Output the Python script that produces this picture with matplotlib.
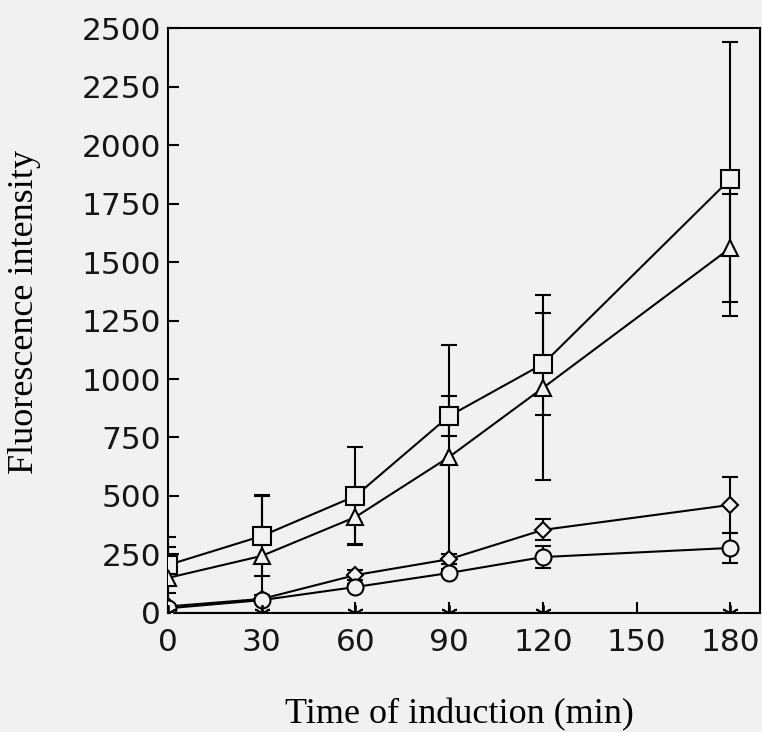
import matplotlib.pyplot as plt
import numpy as np

# data
times = [0, 30, 60, 90, 120, 180]

square = [205, 329, 500, 842, 1064, 1855]
square_err = [120, 170, 210, 85, 218, 585]

triangle = [150, 244, 410, 667, 962, 1560]
triangle_err = [130, 260, 115, 480, 395, 230]

diamond = [28, 60, 162, 230, 355, 462]
diamond_err = [10, 15, 20, 20, 45, 120]

circle = [20, 55, 111, 171, 239, 278]
circle_err = [8, 10, 12, 12, 47, 64]

zero_line = [0, 0, 0, 0, 0, 0]

xticks = [0, 30, 60, 90, 120, 150, 180]
yticks = [0, 250, 500, 750, 1000, 1250, 1500, 1750, 2000, 2250, 2500]


def main():
    bg = '#f1f1f1'
    fig = plt.figure(figsize=(7.62, 7.32), dpi=100)
    fig.patch.set_facecolor(bg)
    ax = fig.add_axes([0.2205, 0.1626, 0.777, 0.7991])
    ax.set_facecolor(bg)

    series = [
        (square, square_err, 's', 13),
        (triangle, triangle_err, '^', 12),
        (diamond, diamond_err, 'D', 8.5),
        (circle, circle_err, 'o', 11.5),
    ]
    for vals, errs, mk, ms in series:
        ax.errorbar(times, vals, yerr=errs, color='black', lw=1.5,
                    elinewidth=1.5, capsize=6, capthick=1.5,
                    marker=mk, markersize=ms, markerfacecolor=bg,
                    markeredgecolor='black', markeredgewidth=1.5, zorder=3)

    ax.plot(times, zero_line, color='black', lw=1.5, marker=(6, 2, 0),
            markersize=12, markeredgewidth=1.3, zorder=4)

    ax.set_xlim(0, 189.5)
    ax.set_ylim(0, 2500)
    ax.set_xticks(xticks)
    ax.set_yticks(yticks)
    ax.tick_params(direction='in', length=8, width=1.5,
                   labelsize=22.5, top=False, right=False)
    ax.tick_params(axis='x', pad=11)
    ax.tick_params(axis='y', pad=5)
    for lab in ax.get_xticklabels() + ax.get_yticklabels():
        lab.set_fontfamily('DejaVu Sans')
        lab.set_color('#161616')
    for sp in ax.spines.values():
        sp.set_linewidth(1.5)

    ax.set_xlabel('Time of induction (min)', fontsize=26,
                  family='Liberation Serif')
    ax.set_ylabel('Fluorescence intensity', fontsize=26,
                  family='Liberation Serif')
    ax.xaxis.set_label_coords(0.493, -0.145)
    ax.yaxis.label.set_va('center')
    ax.yaxis.set_label_coords(-0.242, 0.514)

    fig.savefig('out.png', dpi=100, facecolor=fig.get_facecolor())


if __name__ == '__main__':
    main()
